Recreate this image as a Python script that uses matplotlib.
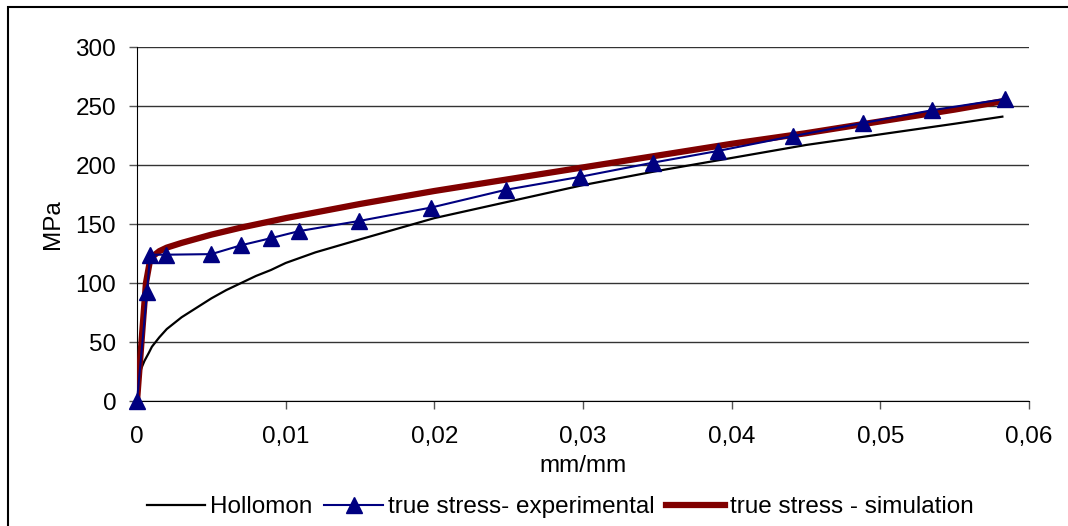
import matplotlib.pyplot as plt
from matplotlib.patches import Rectangle
from matplotlib.ticker import FuncFormatter

plt.rcParams['font.family'] = ['Liberation Sans', 'DejaVu Sans']

# Hollomon fit
holl_x = [0, 0.00002, 0.00005, 0.0001, 0.0002, 0.0003, 0.0005, 0.0008, 0.001,
          0.0015, 0.002, 0.003, 0.004, 0.005, 0.006, 0.007, 0.008, 0.009, 0.01,
          0.012, 0.015, 0.02, 0.025, 0.03, 0.035, 0.04, 0.045, 0.05, 0.055, 0.0582]
holl_y = [0, 9, 13, 18, 24, 28, 34, 41, 46,
          54, 61, 71, 79, 87, 94, 100, 106, 111, 117,
          126, 137, 155, 169, 183, 195, 206, 217, 226, 235, 241]

# true stress - experimental
exp_x = [0, 0.00067, 0.00088, 0.00195, 0.005, 0.007, 0.009, 0.0109, 0.0149,
         0.0198, 0.0248, 0.0298, 0.0347, 0.0391, 0.0441, 0.0488, 0.0535, 0.0584]
exp_y = [0, 92, 124, 124, 124.5, 132, 138, 144, 152.5,
         164, 179, 190, 202, 212, 224.5, 235.5, 246.5, 256]

# true stress - simulation
sim_x = [0, 0.0003, 0.0006, 0.0009, 0.0015, 0.002, 0.003, 0.005, 0.007, 0.01,
         0.015, 0.02, 0.025, 0.03, 0.035, 0.04, 0.045, 0.05, 0.055, 0.0582]
sim_y = [0, 50, 100, 121, 127, 130, 134, 141, 147, 155,
         167, 178, 188, 198, 208, 218, 227, 237, 247, 254]

x_ticks = [0, 0.01, 0.02, 0.03, 0.04, 0.05, 0.06]
y_ticks = [0, 50, 100, 150, 200, 250, 300]

fs = 17.5

fig = plt.figure(figsize=(10.68, 5.26), dpi=100)
ax = fig.add_axes([0.1283, 0.2376, 0.8353, 0.673])

ax.plot(holl_x, holl_y, color='black', lw=1.6, label='Hollomon', zorder=3)
ax.plot(exp_x, exp_y, color='#000080', lw=1.5, marker='^', ms=12,
        label='true stress- experimental', zorder=4, clip_on=False)
ax.plot(sim_x, sim_y, color='#800000', lw=4.5, label='true stress - simulation',
        zorder=3.5)

ax.set_xlim(0, 0.06)
ax.set_ylim(0, 300)
ax.set_xticks(x_ticks)
ax.set_yticks(y_ticks)
ax.xaxis.set_major_formatter(FuncFormatter(
    lambda v, p: '0' if v == 0 else ('%g' % round(v, 3)).replace('.', ',')))
ax.tick_params(axis='both', labelsize=fs, length=6, width=1, color='#555555')
ax.tick_params(axis='x', pad=12)
ax.tick_params(axis='y', pad=9)
ax.grid(axis='y', color='#333333', lw=1)
ax.set_axisbelow(True)
for s in ['top', 'right']:
    ax.spines[s].set_visible(False)
ax.spines['left'].set_color('black')
ax.spines['bottom'].set_color('black')

ax.set_xlabel('mm/mm', fontsize=fs, labelpad=5)
ax.set_ylabel('MPa', fontsize=fs, labelpad=8)

fig.legend(loc='center', bbox_to_anchor=(560 / 1068, 1 - 507 / 526), ncol=3,
           frameon=False, fontsize=fs, handlelength=2.4, handletextpad=0.2,
           columnspacing=0.5)

fig.patches.append(Rectangle((8 / 1068, -0.05), 1.2, 1 - 7 / 526 + 0.05,
                             transform=fig.transFigure, fill=False,
                             edgecolor='black', lw=1.5))

fig.savefig('out.png', dpi=100)
